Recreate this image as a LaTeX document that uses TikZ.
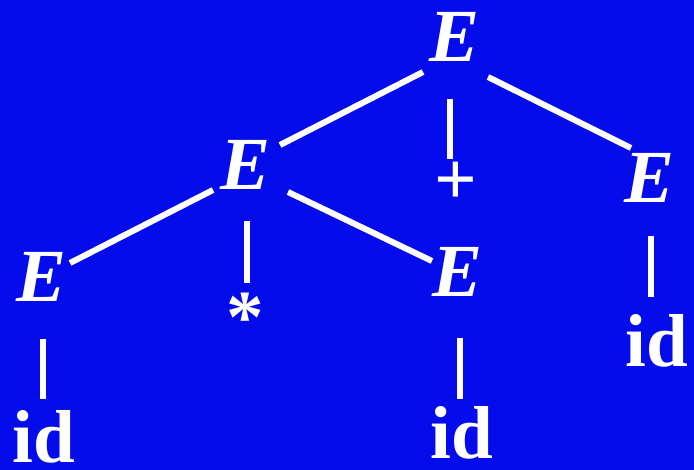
\documentclass[tikz,border=0pt]{standalone}
\usepackage{fontspec}
\setmainfont{Liberation Serif}
\usetikzlibrary{calc}
\definecolor{bgblue}{RGB}{5,12,236}
\tikzset{
  sym/.style={anchor=base, inner sep=0pt, text=white, font=\fontsize{75}{75}\selectfont\bfseries},
  nt/.style={sym, font=\fontsize{75}{75}\selectfont\bfseries\itshape},
  edge/.style={draw=white, line width=6pt}
}
\begin{document}
\begin{tikzpicture}[x=1pt, y=-1pt]
\fill[bgblue] (0,0) rectangle (694,470);
\useasboundingbox (0,0) rectangle (694,470);
\node[nt] (E1) at (455,62) {E};
\node[nt] (E2) at (246,190) {E};
\node[nt] (E3) at (650,203) {E};
\node[nt] (E4) at (42,302) {E};
\node[nt] (E5) at (458,297) {E};
\node[sym] (plus) at (456,205) {+};
\node[sym] (star) at (245,343) {*};
\node[sym] (id1) at (44,462) {id};
\node[sym] (id2) at (462,459) {id};
\node[sym] (id3) at (657,367) {id};
\draw[edge] ($(E1.base)+(-32,10)$) -- ($(E2.base)+(34,-45)$);
\draw[edge] ($(E1.base)+(-5,37)$) -- ($(plus.base)+(-6,-46)$);
\draw[edge] ($(E1.base)+(33,15)$) -- ($(E3.base)+(-19,-55)$);
\draw[edge] ($(E2.base)+(-33,0)$) -- ($(E4.base)+(28,-39)$);
\draw[edge] ($(E2.base)+(1,31)$) -- ($(star.base)+(2,-60)$);
\draw[edge] ($(E2.base)+(42,2)$) -- ($(E5.base)+(-26,-36)$);
\draw[edge] ($(E4.base)+(1,37)$) -- ($(id1.base)+(-1,-63)$);
\draw[edge] ($(E5.base)+(2,41)$) -- ($(id2.base)+(-2,-60)$);
\draw[edge] ($(E3.base)+(1,33)$) -- ($(id3.base)+(-6,-70)$);
\end{tikzpicture}
\end{document}
